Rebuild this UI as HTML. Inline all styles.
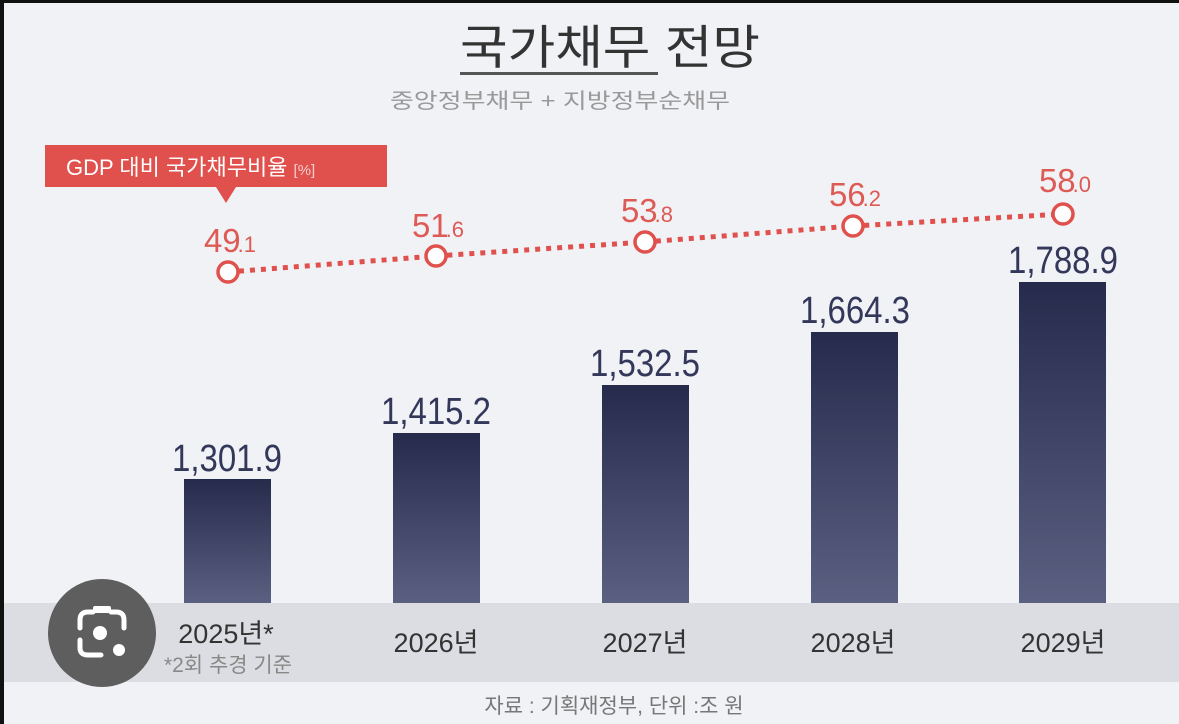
<!DOCTYPE html>
<html><head><meta charset="utf-8"><style>
html,body{margin:0;padding:0;width:1179px;height:724px;overflow:hidden;background:#f1f2f6}
text{font-family:"Liberation Sans","Noto Sans CJK KR",sans-serif}
</style></head><body>
<svg width="1179" height="724" viewBox="0 0 1179 724" xmlns="http://www.w3.org/2000/svg">
<defs>
<linearGradient id="g" x1="0" y1="0" x2="0" y2="1">
<stop offset="0" stop-color="#262b4c"/><stop offset="1" stop-color="#5b6081"/>
</linearGradient>
</defs>
<rect width="1179" height="724" fill="#f1f2f6"/>
<rect x="0" y="0" width="1179" height="3" fill="#111"/>
<rect x="0" y="0" width="4" height="724" fill="#111"/>
<rect x="4" y="603" width="1175" height="79" fill="#dcdde2"/>
<text x="460" y="64" font-size="47" fill="#333" textLength="300" lengthAdjust="spacingAndGlyphs">국가채무 전망</text>
<rect x="460" y="72" width="198" height="3" fill="#555"/>
<text x="390" y="108" font-size="21" fill="#999" textLength="340" lengthAdjust="spacingAndGlyphs">중앙정부채무 + 지방정부순채무</text>
<rect x="45" y="145" width="342" height="42" fill="#e0504c"/>
<polygon points="216,187 236,187 226,203" fill="#e0504c"/>
<text x="66" y="175" font-size="22" fill="#fff">GDP 대비 국가채무비율 <tspan font-size="15" fill="#f6cfcd">[%]</tspan></text>
<polyline points="228,272 436,256 645,242 853,226 1063,214" fill="none" stroke="#e0504c" stroke-width="5" stroke-dasharray="5,6"/>
<g fill="#fff" stroke="#e0504c" stroke-width="3.5">
<circle cx="228" cy="272" r="10"/><circle cx="436" cy="256" r="10"/><circle cx="645" cy="242" r="10"/><circle cx="853" cy="226" r="10"/><circle cx="1063" cy="214" r="10"/>
</g>
<g fill="#de5a55" font-size="33" text-anchor="middle">
<text x="230" y="252">49<tspan font-size="22" dx="-3">.1</tspan></text>
<text x="438" y="237">51<tspan font-size="22" dx="-3">.6</tspan></text>
<text x="647" y="222">53<tspan font-size="22" dx="-3">.8</tspan></text>
<text x="855" y="206">56<tspan font-size="22" dx="-3">.2</tspan></text>
<text x="1065" y="192">58<tspan font-size="22" dx="-3">.0</tspan></text>
</g>
<g fill="url(#g)">
<rect x="184" y="479" width="87" height="124"/>
<rect x="393" y="433" width="87" height="170"/>
<rect x="602" y="385" width="87" height="218"/>
<rect x="811" y="332" width="87" height="271"/>
<rect x="1019" y="282" width="87" height="321"/>
</g>
<g fill="#33375a" font-size="38" text-anchor="middle">
<text x="227" y="471" textLength="110" lengthAdjust="spacingAndGlyphs">1,301.9</text>
<text x="436" y="424" textLength="110" lengthAdjust="spacingAndGlyphs">1,415.2</text>
<text x="645" y="376" textLength="110" lengthAdjust="spacingAndGlyphs">1,532.5</text>
<text x="855" y="323" textLength="110" lengthAdjust="spacingAndGlyphs">1,664.3</text>
<text x="1063" y="273" textLength="110" lengthAdjust="spacingAndGlyphs">1,788.9</text>
</g>
<g fill="#333" font-size="27" text-anchor="middle">
<text x="226" y="643">2025년*</text>
<text x="436" y="652">2026년</text>
<text x="645" y="652">2027년</text>
<text x="853" y="652">2028년</text>
<text x="1063" y="652">2029년</text>
</g>
<text x="228" y="672" font-size="21" fill="#888" text-anchor="middle">*2회 추경 기준</text>
<text x="614" y="713" font-size="21" fill="#777" text-anchor="middle">자료 : 기획재정부, 단위 :조  원</text>
<circle cx="102" cy="633" r="54" fill="#5e5e5e"/>
<g fill="none" stroke="#fff" stroke-width="5" stroke-linecap="round">
<path d="M80 628 V620 Q80 612 88 612 H93 M111 612 H116 Q124 612 124 620 V628 M80 640 V648 Q80 655 88 655 H101"/>
</g>
<rect x="93" y="606" width="18" height="7" rx="2" fill="#fff"/>
<circle cx="100" cy="633" r="7" fill="#fff"/>
<circle cx="119" cy="650" r="6" fill="#fff"/>
</svg>
</body></html>
